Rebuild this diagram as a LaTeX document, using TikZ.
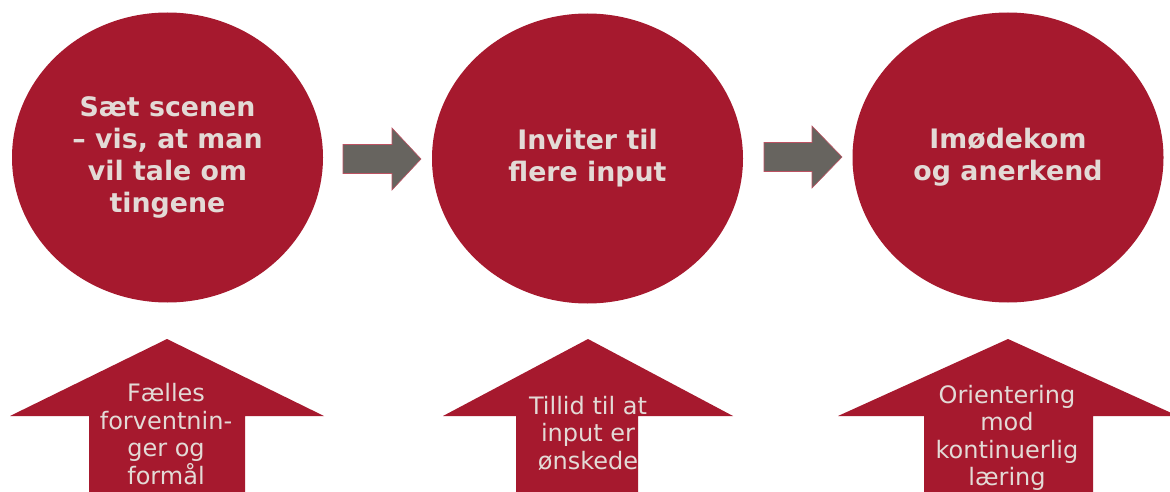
\documentclass[tikz,border=0pt]{standalone}
\usepackage{fontspec}
\setmainfont{DejaVu Sans}
\usetikzlibrary{shapes.geometric}
\definecolor{dred}{HTML}{A6192E}
\definecolor{agray}{HTML}{67645F}
\definecolor{ltext}{HTML}{E3DAD6}
\begin{document}
\begin{tikzpicture}[x=1pt,y=-1pt,
  stage/.style={ellipse, fill=dred, minimum width=311pt, minimum height=290pt, inner sep=0pt,
    text=ltext, align=center, font=\bfseries\fontsize{26.8}{32}\selectfont},
  garrow/.style={fill=agray, draw=dred!75, line width=0.6pt},
  uparrow/.style={fill=dred},
  uptext/.style={anchor=north, inner sep=0pt, text=ltext, align=center, font=\fontsize{24}{27.5}\selectfont}]
\useasboundingbox (0,0) rectangle (1170,492);
\clip (0,0) rectangle (1170,492);
\fill[white] (0,0) rectangle (1170,492);

% circles
\node[stage] (c1) at (167.5,157.5) {Sæt scenen\\– vis, at man\\vil tale om\\tingene};
\node[stage] (c2) at (587.5,158.5) {Inviter til\\flere input};
\node[stage] (c3) at (1008,157.5) {Imødekom\\og anerkend};

% grey arrows between circles
\draw[garrow] (343,144.5) -- (392,144.5) -- (392,128) -- (421,159) -- (392,190) -- (392,173.5) -- (343,173.5) -- cycle;
\draw[garrow] (764,142.5) -- (812,142.5) -- (812,126) -- (842,157) -- (812,188) -- (812,171.5) -- (764,171.5) -- cycle;

% bottom up-arrows
\fill[uparrow] (167,339) -- (324,416) -- (245,416) -- (245,500) -- (89,500) -- (89,416) -- (10,416) -- cycle;
\fill[uparrow] (588,339) -- (733,416) -- (638,416) -- (638,500) -- (516,500) -- (516,416) -- (443,416) -- cycle;
\fill[uparrow] (1008,339) -- (1178,416) -- (1093,416) -- (1093,500) -- (924,500) -- (924,416) -- (838,416) -- cycle;

\node[uptext] (t1) at (166,383.5) {Fælles\\forventnin-\\ger og\\formål};
\node[uptext] (t2) at (588,396) {\fontsize{24}{29.2}\selectfont Tillid til at\\input er\\ønskede};
\node[uptext] (t3) at (1007,385) {Orientering\\mod\\kontinuerlig\\læring};
\end{tikzpicture}
\end{document}
